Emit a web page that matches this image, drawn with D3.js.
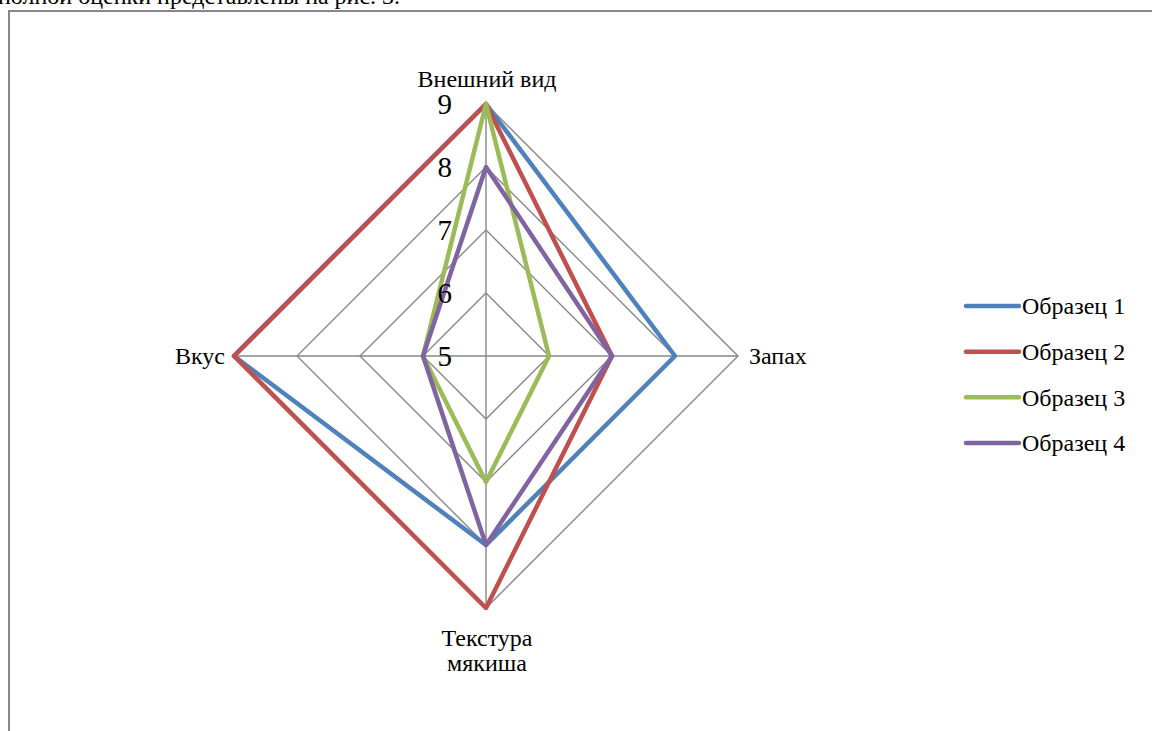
<!DOCTYPE html>
<html>
<head>
<meta charset="utf-8">
<script src="https://cdn.jsdelivr.net/npm/d3@7"></script>
<style>
  body { margin: 0; background: #fff; }
  svg { display: block; }
</style>
</head>
<body>
<svg id="chart" width="1152" height="731" font-family="'Liberation Serif', 'DejaVu Serif', serif"></svg>
<script>
// data
const axes = ["Внешний вид", "Запах", "Текстура мякиша", "Вкус"];
const seriesNames = ["Образец 1", "Образец 2", "Образец 3", "Образец 4"];
const sample1 = [9, 8, 8, 9];
const sample2 = [9, 7, 9, 9];
const sample3 = [9, 6, 7, 6];
const sample4 = [8, 7, 8, 6];
const tickValues = [5, 6, 7, 8, 9];
const colors = ["#4f81bd", "#c0504d", "#9bbb59", "#8064a2"];

const svg = d3.select("#chart");
const cx = 486, cy = 356;
const serif = "Liberation Serif";
const fs = 24;

// top caption (cut off by the page)
svg.append("text")
    .attr("x", -2).attr("y", 4)
    .attr("font-family", serif)
    .attr("font-size", fs)
    .text("полной оценки представлены на рис. 3.");

// frame
svg.append("rect")
    .attr("x", 9).attr("y", 11)
    .attr("width", 1200).attr("height", 800)
    .attr("fill", "none")
    .attr("stroke", "#878787").attr("stroke-width", 2);

// scales
const r = d3.scaleLinear().domain([5, 9]).range([0, 252]);
const angle = d3.scaleLinear().domain([0, axes.length]).range([0, 2 * Math.PI]);

function pt(i, v) {
    const a = angle(i);
    return [cx + r(v) * Math.sin(a), cy - r(v) * Math.cos(a)];
}

const g = svg.append("g");

// grid rings
tickValues.slice(1).forEach(function(t) {
    g.append("path")
        .attr("d", d3.line()(axes.map(function(d, i) { return pt(i, t); })) + "Z")
        .attr("fill", "none")
        .attr("stroke", "#878787").attr("stroke-width", 1.4);
});

// spokes
axes.forEach(function(d, i) {
    const p = pt(i, 9);
    g.append("line")
        .attr("x1", cx).attr("y1", cy)
        .attr("x2", p[0]).attr("y2", p[1])
        .attr("stroke", "#878787").attr("stroke-width", 1.4);
});

// series
const allSeries = [sample1, sample2, sample3, sample4];
allSeries.forEach(function(s, k) {
    g.append("path")
        .attr("d", d3.line()(s.map(function(v, i) { return pt(i, v); })) + "Z")
        .attr("fill", "none")
        .attr("stroke", colors[k])
        .attr("stroke-width", 4.5)
        .attr("stroke-linejoin", "round");
});

// tick labels
tickValues.forEach(function(t) {
    g.append("text")
        .attr("x", 452).attr("y", cy - r(t))
        .attr("dy", "0.35em")
        .attr("text-anchor", "end")
        .attr("font-family", serif)
        .attr("font-size", 29)
        .text(t);
});

// axis labels
function label(x, y, anchor, txt) {
    return svg.append("text").attr("x", x).attr("y", y)
        .attr("text-anchor", anchor)
        .attr("font-family", serif)
        .attr("font-size", fs)
        .text(txt);
}
label(487, 87, "middle", axes[0]);
label(749, 356, "start", axes[1]).attr("dy", "0.35em");
const bottom = label(487, 646, "middle", null);
bottom.append("tspan").attr("x", 487).attr("y", 646).text("Текстура");
bottom.append("tspan").attr("x", 487).attr("y", 671).text("мякиша");
label(225, 356, "end", axes[3]).attr("dy", "0.35em");

// legend
const legend = svg.append("g");
const ly = d3.scalePoint().domain(seriesNames).range([306, 443]);
seriesNames.forEach(function(name, k) {
    legend.append("line")
        .attr("x1", 966).attr("x2", 1019)
        .attr("y1", ly(name)).attr("y2", ly(name))
        .attr("stroke", colors[k]).attr("stroke-width", 4.5)
        .attr("stroke-linecap", "round");
    legend.append("text")
        .attr("x", 1022).attr("y", ly(name)).attr("dy", "0.35em")
        .attr("font-family", serif)
        .attr("font-size", fs)
        .text(name);
});
</script>
</body>
</html>
